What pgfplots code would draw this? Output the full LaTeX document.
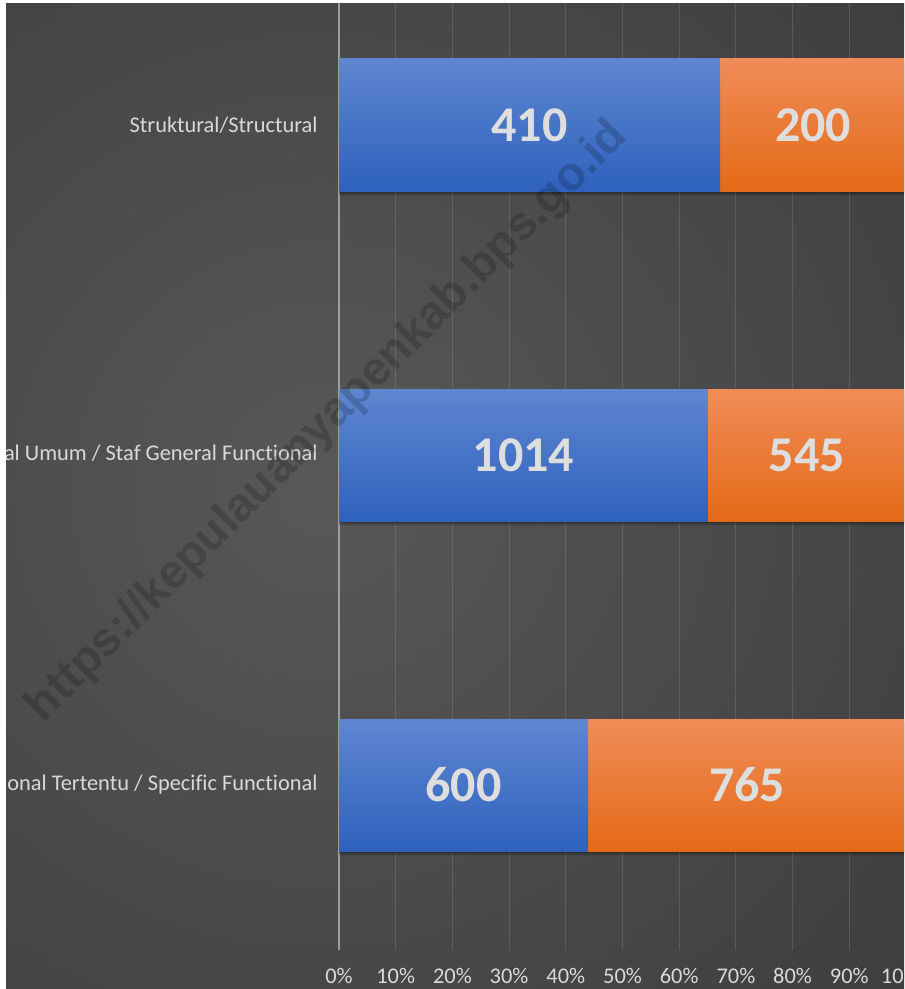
\documentclass[border=0pt]{standalone}
\usepackage{fontspec}
\setmainfont{Carlito}[Ligatures={NoCommon}]
\newfontfamily\wmfont{Liberation Sans}
\usepackage{pgfplots}
\usepackage{pgfplotstable}
\pgfplotsset{compat=1.18}

\definecolor{bgin}{HTML}{585858}
\definecolor{bgout}{HTML}{2B2B2B}
\definecolor{bluetop}{HTML}{5F86D0}
\definecolor{bluebot}{HTML}{2E62BD}
\definecolor{oratop}{HTML}{F08C58}
\definecolor{orabot}{HTML}{E46A17}
\definecolor{labgray}{HTML}{D9D9D9}
\definecolor{numgray}{HTML}{DEDEDE}

\pgfdeclareradialshading{bgshade}{\pgfpoint{0bp}{0bp}}{color(0bp)=(bgin); color(50bp)=(bgout)}

% pos 0 = bottom bar
\pgfplotstableread{
pos s1 s2
0 600 765
1 1014 545
2 410 200
}\datatable

\pgfplotsset{panel/.style={
    at={(169.5pt,-475pt)}, anchor=south west,
    scale only axis, width=283.5pt, height=495pt,
    xmin=0, xmax=100, ymin=-0.5, ymax=2.5}}

\begin{document}
\begin{tikzpicture}
\useasboundingbox (0,0) rectangle (452pt,-494.5pt);
\clip (3pt,-2pt) rectangle (452pt,-494.5pt);
% light spot left of centre, darker towards the corners
\path[shading=bgshade] (160pt-330pt,-245pt+330pt) rectangle (160pt+330pt,-245pt-330pt);

\begin{axis}[panel,
    xbar, bar shift=0pt, bar width=66pt,
    axis line style={draw=none},
    major tick length=0pt,
    xtick={0,10,...,100},
    xticklabels={0\%,10\%,20\%,30\%,40\%,50\%,60\%,70\%,80\%,90\%,100\%},
    ytick={0,1,2},
    yticklabels={Fungsional Tertentu / Specific Functional,
                 Fungsional Umum / Staf General Functional,
                 Struktural/Structural},
    tick label style={font=\fontsize{11.2}{13}\selectfont, text=labgray},
    xticklabel style={inner sep=0pt, anchor=north, yshift=-9pt},
    yticklabel style={inner sep=0pt, anchor=east, xshift=-10.5pt},
    xmajorgrids,
    major grid style={white, opacity=0.12, line width=0.5pt},
    extra x ticks={0}, extra x tick labels={},
    extra x tick style={major grid style={color=white!62!black, opacity=1, line width=1pt}},
]
% soft shadow under the bars
\addplot[draw=none, fill=black, fill opacity=0.18, bar shift=-2.2pt]
    table[y=pos, x expr={100*(\thisrow{s1}+\thisrow{s2})/(\thisrow{s1}+\thisrow{s2})}] {\datatable};
\addplot[draw=none, fill=black, fill opacity=0.25, bar shift=-1pt]
    table[y=pos, x expr={100*(\thisrow{s1}+\thisrow{s2})/(\thisrow{s1}+\thisrow{s2})}] {\datatable};
% one plot per bar so each bar gets its own top-to-bottom shading;
% orange = cumulative share (drawn first), blue = first share on top
\pgfplotsinvokeforeach{0,1,2}{
  \addplot[draw=none, top color=oratop, bottom color=orabot, restrict y to domain=#1:#1]
      table[y=pos, x expr={100*(\thisrow{s1}+\thisrow{s2})/(\thisrow{s1}+\thisrow{s2})}] {\datatable};
  \addplot[draw=none, top color=bluetop, bottom color=bluebot, restrict y to domain=#1:#1]
      table[y=pos, x expr={100*\thisrow{s1}/(\thisrow{s1}+\thisrow{s2})}] {\datatable};
}
\end{axis}

% data labels, centred in each segment
\begin{axis}[panel, hide axis,
    every node near coord/.style={anchor=center, inner sep=0pt,
        font=\fontsize{25}{30}\selectfont\bfseries, text=numgray},
]
\addplot[only marks, mark=*, mark size=0pt, mark options={draw=none, fill=none},
    nodes near coords={\pgfplotspointmeta}, point meta=explicit symbolic]
    table[y=pos, x expr={50*\thisrow{s1}/(\thisrow{s1}+\thisrow{s2})}, meta=s1] {\datatable};
\addplot[only marks, mark=*, mark size=0pt, mark options={draw=none, fill=none},
    nodes near coords={\pgfplotspointmeta}, point meta=explicit symbolic]
    table[y=pos, x expr={100*(\thisrow{s1}+0.5*\thisrow{s2})/(\thisrow{s1}+\thisrow{s2})}, meta=s2] {\datatable};
\end{axis}

% watermark
\node[rotate=45, font=\wmfont\bfseries\fontsize{23.5}{28}\selectfont, text=black, opacity=0.18]
    at (164pt,-211pt) {https://kepulauanyapenkab.bps.go.id};
\end{tikzpicture}
\end{document}
